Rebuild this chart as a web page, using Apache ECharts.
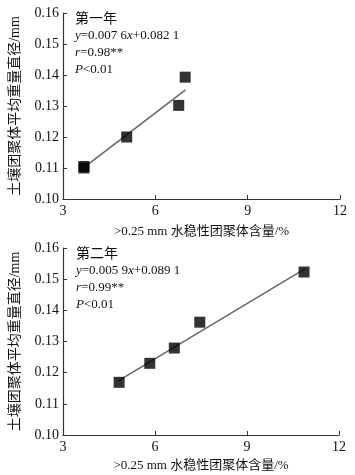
<!DOCTYPE html>
<html><head><meta charset="utf-8">
<script src="https://cdn.jsdelivr.net/npm/echarts@6/dist/echarts.min.js"></script>
<style>html,body{margin:0;padding:0;background:#fff}#c{width:355px;height:475px}</style>
</head><body><div id="c"></div>
<script>
var xTicks = [3, 6, 9, 12];
var yTicks = [0.10, 0.11, 0.12, 0.13, 0.14, 0.15, 0.16];
var year1Points = [[3.68, 0.1105], [3.68, 0.1100], [5.07, 0.1200], [6.76, 0.1302], [6.97, 0.1393]];
var year1Fit = [[3.73, 0.1105], [6.98, 0.1352]];
var year2Points = [[4.83, 0.1169], [5.83, 0.1230], [6.63, 0.1279], [7.46, 0.1362], [10.86, 0.1523]];
var year2Fit = [[4.80, 0.1174], [10.90, 0.1534]];
var year1Text = ['第一年', '{i|y}=0.007 6{i|x}+0.082 1', '{i|r}=0.98**', '{i|P}<0.01'];
var year2Text = ['第二年', '{i|y}=0.005 9{i|x}+0.089 1', '{i|r}=0.99**', '{i|P}<0.01'];
var xName = '>0.25 mm 水稳性团聚体含量/%';
var yName = '土壤团聚体平均重量直径/mm';

var FONT = '"Liberation Serif", "Noto Sans CJK SC", serif';
var axisColor = '#333';
function xAxis(i, gap) {
  return {
    gridIndex: i, type: 'value', min: 3, max: 12, interval: 3,
    name: xName, nameLocation: 'middle', nameGap: gap,
    nameTextStyle: {fontFamily: FONT, fontSize: 13, color: '#111'},
    axisLine: {show: true, lineStyle: {color: axisColor, width: 1.2}},
    axisTick: {show: true, inside: true, length: 4, lineStyle: {color: axisColor}},
    axisLabel: {fontFamily: FONT, fontSize: 14, color: '#111', margin: 5,
      formatter: function (v) { return xTicks.indexOf(v) >= 0 ? String(v) : ''; }},
    splitLine: {show: false}
  };
}
function yAxis(i) {
  return {
    gridIndex: i, type: 'value', min: 0.10, max: 0.16, interval: 0.01,
    name: yName, nameLocation: 'middle', nameGap: 41,
    nameTextStyle: {fontFamily: FONT, fontSize: 14, color: '#111'},
    axisLine: {show: true, lineStyle: {color: axisColor, width: 1.2}},
    axisTick: {show: true, inside: true, length: 4, lineStyle: {color: axisColor}},
    axisLabel: {fontFamily: FONT, fontSize: 14, color: '#111', margin: 4,
      formatter: function (v) { return v.toFixed(2); }},
    splitLine: {show: false}
  };
}
function textBlock(lines, left, top) {
  return lines.map(function (t, k) {
    return {
      type: 'text', left: left, top: top + k * 17,
      style: {text: t, fontFamily: FONT, fontSize: k === 0 ? 14 : 13, fill: '#111',
        rich: {i: {fontStyle: 'italic', fontFamily: FONT, fontSize: 13, fill: '#111'}}}
    };
  });
}
var chart = echarts.init(document.getElementById('c'));
chart.setOption({
  animation: false,
  grid: [
    {left: 55, top: 13, width: 285, height: 186},
    {left: 57, top: 248, width: 282, height: 187}
  ],
  xAxis: [xAxis(0, 26), xAxis(1, 24)],
  yAxis: [yAxis(0), yAxis(1)],
  graphic: textBlock(year1Text, 75, 12).concat(textBlock(year2Text, 76, 247)),
  series: [
    {type: 'line', xAxisIndex: 0, yAxisIndex: 0, data: year1Fit, symbol: 'none',
      lineStyle: {color: '#666', width: 1.5}, z: 1},
    {type: 'scatter', xAxisIndex: 0, yAxisIndex: 0, data: year1Points, symbol: 'rect',
      symbolSize: 11, itemStyle: {color: '#000'}, z: 2},
    {type: 'line', xAxisIndex: 1, yAxisIndex: 1, data: year2Fit, symbol: 'none',
      lineStyle: {color: '#666', width: 1.5}, z: 1},
    {type: 'scatter', xAxisIndex: 1, yAxisIndex: 1, data: year2Points, symbol: 'rect',
      symbolSize: 11, itemStyle: {color: '#000'}, z: 2}
  ]
});
</script></body></html>
